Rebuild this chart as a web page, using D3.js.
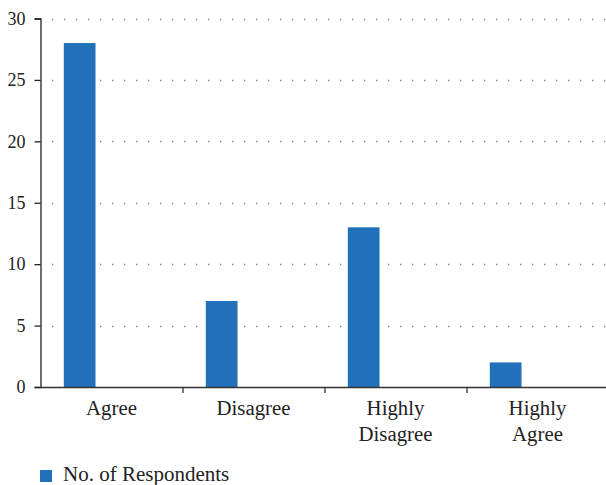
<!DOCTYPE html>
<html>
<head>
<meta charset="utf-8">
<script src="https://cdn.jsdelivr.net/npm/d3@7"></script>
<style>
  html, body { margin: 0; padding: 0; background: #fff; }
  svg { display: block; }
  svg text { font-family: "Liberation Serif", "Times New Roman", serif; }
</style>
</head>
<body>
<svg id="chart" width="606" height="485"></svg>
<script>
// Survey responses
const categories = ["Agree", "Disagree", "Highly Disagree", "Highly Agree"];
const categoryLines = [["Agree"], ["Disagree"], ["Highly", "Disagree"], ["Highly", "Agree"]];
const respondents = [28, 7, 13, 2];
const seriesName = "No. of Respondents";
const yTicks = [0, 5, 10, 15, 20, 25, 30];

const svg = d3.select("#chart");
const plotLeft = 40.5, plotRight = 608.5, plotTop = 18.5, plotBottom = 387;
const barColor = "#2171ba";
const serif = "'Liberation Serif', 'Times New Roman', serif";

const x = d3.scaleBand().domain(categories).range([plotLeft, plotRight]).padding(0);
// each category slot holds the series bar at its left side
const inner = d3.scaleBand().domain([seriesName, "_"]).range([0, x.bandwidth()])
  .paddingInner(0.502).paddingOuter(0.366);
const y = d3.scaleLinear().domain([0, 30]).range([plotBottom, plotTop]);

// dotted horizontal grid lines
svg.append("g")
  .selectAll("line")
  .data(yTicks.filter(d => d > 0))
  .join("line")
  .attr("x1", plotLeft + 11.5)
  .attr("x2", 606)
  .attr("y1", d => Math.round(y(d)) + 0.5)
  .attr("y2", d => Math.round(y(d)) + 0.5)
  .attr("stroke", "#8a8a8a")
  .attr("stroke-width", 1.4)
  .attr("stroke-dasharray", "1.4 10.6");

// bars
svg.append("g")
  .selectAll("rect")
  .data(categories)
  .join("rect")
  .attr("x", (d) => x(d) + inner(seriesName))
  .attr("width", inner.bandwidth())
  .attr("y", (d, i) => y(respondents[i]))
  .attr("height", (d, i) => plotBottom - y(respondents[i]))
  .attr("fill", barColor);

// y axis
const yAxis = svg.append("g")
  .attr("transform", `translate(${plotLeft},0)`)
  .call(d3.axisLeft(y).tickValues(yTicks).tickSize(6).tickPadding(9));
yAxis.attr("font-family", serif);
yAxis.select(".domain").attr("stroke", "#222").attr("stroke-width", 1.3);
yAxis.selectAll(".tick line").attr("stroke", "#222").attr("stroke-width", 1.3);
yAxis.selectAll(".tick text")
  .attr("font-size", 18)
  .attr("fill", "#222");

// x axis
const xAxis = svg.append("g")
  .attr("transform", `translate(0,${plotBottom})`)
  .call(d3.axisBottom(x).tickValues([]).tickSizeOuter(0));
xAxis.select(".domain").attr("stroke", "#333").attr("stroke-width", 1.4);

// category separators
svg.append("g")
  .selectAll("line")
  .data(categories.slice(1))
  .join("line")
  .attr("x1", d => x(d) + 0.5)
  .attr("x2", d => x(d) + 0.5)
  .attr("y1", plotBottom)
  .attr("y2", plotBottom + 6)
  .attr("stroke", "#333")
  .attr("stroke-width", 1.3);

// category labels
const labels = svg.append("g")
  .selectAll("text")
  .data(categories)
  .join("text")
  .attr("text-anchor", "middle")
  .attr("font-size", 20.8)
  .attr("fill", "#222")
  .attr("transform", d => `translate(${x(d) + x.bandwidth() / 2},${plotBottom + 28})`);
labels.selectAll("tspan")
  .data((d, i) => categoryLines[i])
  .join("tspan")
  .attr("x", 0)
  .attr("y", (d, j) => j * 26)
  .text(d => d);

// legend
const legend = svg.append("g").attr("transform", "translate(40,470)");
legend.append("rect").attr("width", 12).attr("height", 12).attr("fill", barColor);
legend.append("text")
  .attr("x", 23)
  .attr("y", 11)
  .attr("font-size", 21)
  .attr("fill", "#222")
  .text(seriesName);
</script>
</body>
</html>
